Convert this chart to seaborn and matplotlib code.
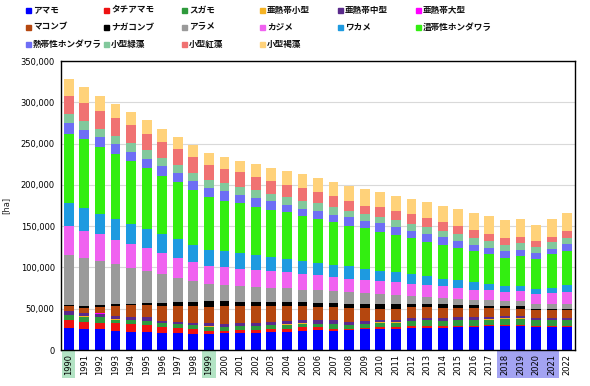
import matplotlib
matplotlib.use("Agg")
import matplotlib.pyplot as plt
import matplotlib.transforms as mtransforms
from matplotlib.lines import Line2D
from matplotlib.patches import Rectangle
from matplotlib.ticker import FuncFormatter
import numpy as np
import pandas as pd
import seaborn as sns

# ---- data (ha) ----
years = list(range(1990, 2023))

amamo = [26100, 24900, 24900, 23300, 22100, 22100, 20900, 20000, 19300, 18900,
         20000, 20000, 20900, 21300, 22000, 23300, 24000, 23300, 24000, 24900,
         24900, 26000, 26100, 26900, 26500, 27300, 27300, 28900, 28900, 28900,
         28100, 28100, 28100]
tachiamamo = [10000, 9200, 8400, 8800, 9200, 8000, 6400, 6100, 5600, 4400,
              2900, 4000, 3100, 3600, 4000, 4000, 3300, 2700, 2000, 2100,
              2400, 1300, 2800, 2000, 2000, 1600, 1600, 800, 800, 800,
              800, 800, 800]
sugamo = [6100, 6100, 6100, 4800, 4800, 5200, 4800, 4800, 4800, 4800,
          4400, 4900, 5000, 4800, 4500, 4700, 4000, 5300, 4100, 4300,
          5700, 5700, 6400, 7100, 6800, 7200, 7200, 7200, 8100, 8100,
          7200, 7200, 7200]
anettai_small = [400, 400, 400, 400, 400, 400, 400, 400, 400, 400,
                 400, 400, 400, 400, 400, 400, 400, 400, 400, 400,
                 400, 400, 400, 400, 400, 400, 400, 400, 400, 400,
                 400, 400, 400]
anettai_mid = [4400, 4400, 4400, 3700, 3700, 3700, 2800, 2800, 2800, 3800,
               3700, 3600, 3600, 3900, 4400, 3600, 4300, 4300, 3500, 3600,
               2700, 2700, 2500, 2100, 2500, 2900, 2900, 2900, 2400, 2400,
               1700, 1700, 1700]
anettai_large = [300, 300, 300, 300, 300, 300, 300, 300, 300, 300,
                 300, 300, 300, 300, 300, 300, 300, 300, 300, 300,
                 300, 300, 300, 300, 300, 300, 300, 300, 300, 300,
                 300, 300, 300]
makonbu = [6100, 6100, 7700, 11700, 13700, 14500, 17400, 18600, 19800, 19600,
           21300, 19800, 19700, 18700, 17400, 16700, 15900, 15900, 17100, 15800,
           13800, 13800, 13700, 13400, 12900, 11700, 11300, 10500, 10100, 9300,
           9700, 9700, 9700]
nagakonbu = [1200, 1600, 2400, 2400, 2000, 2800, 4000, 4800, 5200, 6800,
             6000, 5200, 5200, 5200, 5200, 5200, 5200, 4800, 4800, 4800,
             5200, 5200, 3200, 3200, 4000, 3600, 3200, 2400, 2000, 2800,
             2000, 2000, 2000]
arame = [59900, 58000, 53400, 48200, 42800, 38600, 34600, 29800, 25300, 20500,
         20000, 19300, 18100, 17300, 16800, 14800, 14900, 14500, 14100, 12800,
         12900, 10900, 10100, 8900, 8100, 7200, 6800, 6800, 6000, 6000,
         5200, 5200, 6000]
kajime = [35300, 33600, 32000, 30100, 29500, 27400, 26100, 24400, 22500, 22100,
          21400, 20900, 20900, 19700, 19400, 18600, 18100, 16900, 16000, 16100,
          15200, 16000, 14800, 14000, 13600, 13300, 12100, 12100, 11300, 12100,
          12100, 13700, 14100]
wakame = [27700, 27400, 25000, 25300, 24100, 23600, 22300, 22500, 21700, 20100,
          19300, 18900, 17300, 17200, 16000, 16000, 15200, 14800, 14900, 13300,
          12100, 12100, 11300, 10900, 9200, 8800, 9200, 7200, 6800, 6000,
          6800, 6400, 8000]
ontai_hondawara = [84500, 83000, 81000, 78000, 76400, 74400, 71000, 68500, 65900, 63800,
                   61000, 60200, 59000, 57600, 56300, 55100, 53000, 51400, 49400, 49000,
                   47800, 45000, 43700, 42100, 41400, 39400, 37400, 36200, 34500, 36200,
                   36100, 40200, 41400]
nettai_hondawara = [13000, 11000, 12000, 12000, 11000, 10700, 12000, 11000, 11400, 10500,
                    11300, 10500, 10500, 10000, 9300, 8000, 10100, 9300, 10000, 9200,
                    10000, 9200, 9300, 9300, 8800, 8000, 8000, 8000, 8100, 8000,
                    6900, 6800, 8800]
kogata_ryokuso = [11400, 11000, 10000, 10000, 11000, 10300, 10000, 10000, 9800, 10000,
                  10000, 10000, 9600, 9000, 9000, 10300, 8800, 9600, 8100, 8100,
                  8000, 8800, 8000, 8800, 8100, 8900, 8000, 8800, 8000, 8000,
                  7200, 8000, 7200]
kogata_koso = [21600, 22000, 22000, 22000, 21000, 20000, 19000, 19000, 18900, 18000,
               17000, 17000, 16000, 16000, 15000, 15000, 13500, 13500, 11300, 10000,
               11300, 11300, 12100, 10400, 10000, 9200, 9700, 8100, 8000, 8000,
               7200, 6800, 8100]
kogata_kasso = [20500, 19000, 18000, 17000, 16000, 16000, 16000, 15000, 14300, 14000,
                14700, 14000, 15400, 15000, 17000, 17000, 17000, 17000, 19000, 20300,
                18300, 18300, 18300, 18900, 20100, 20500, 20500, 21200, 21700, 21300,
                20100, 21300, 22100]

species = ["アマモ", "タチアマモ", "スガモ", "亜熱帯小型", "亜熱帯中型", "亜熱帯大型",
           "マコンブ", "ナガコンブ", "アラメ", "カジメ", "ワカメ", "温帯性ホンダワラ",
           "熱帯性ホンダワラ", "小型緑藻", "小型紅藻", "小型褐藻"]
series = [amamo, tachiamamo, sugamo, anettai_small, anettai_mid, anettai_large,
          makonbu, nagakonbu, arame, kajime, wakame, ontai_hondawara,
          nettai_hondawara, kogata_ryokuso, kogata_koso, kogata_kasso]
colors = ["#0000ff", "#ee1111", "#2e9a3c", "#f5b324", "#5a2a8c", "#ff00ff",
          "#b5470f", "#000000", "#9a9a9a", "#f062f0", "#1e9ae0", "#33ee11",
          "#6e6ef5", "#82c89c", "#f07272", "#ffd27a"]

highlight_green = [1990, 1999]
highlight_blue = [2018, 2019, 2020, 2021]

df = pd.DataFrame(
    [(y, sp, v) for sp, vals in zip(species, series) for y, v in zip(years, vals)],
    columns=["year", "species", "area"],
)
palette = dict(zip(species, colors))

sns.set_theme(style="white")
plt.rcParams["font.family"] = ["Noto Sans CJK JP", "DejaVu Sans"]

fig = plt.figure(figsize=(5.9, 3.86), dpi=100)
ax = fig.add_axes([61 / 590, 1 - 350 / 386, (575 - 61) / 590, (350 - 61) / 386])

# seaborn stacks the last hue level at the bottom, so pass the order reversed
sns.histplot(
    data=df, x="year", weights="area", hue="species",
    hue_order=species[::-1], palette=palette,
    multiple="stack", discrete=True, shrink=0.63,
    alpha=1, linewidth=0, legend=False, ax=ax,
)

ax.set_xlim(1989.5, 2022.5)
ax.set_ylim(0, 350000)
ax.set_yticks(np.arange(0, 350001, 50000))
ax.yaxis.set_major_formatter(FuncFormatter(lambda v, p: f"{int(v):,}"))
ax.set_xticks(years)
ax.set_xticklabels([str(y) for y in years], rotation=90, family="DejaVu Sans")
for lab in ax.get_yticklabels():
    lab.set_family("DejaVu Sans")
ax.tick_params(axis="both", labelsize=6, length=0, colors="#000000")
ax.tick_params(axis="y", pad=4.5)
ax.tick_params(axis="x", pad=3)
ax.set_xlabel("")
ax.set_ylabel("[ha]", fontsize=6, labelpad=7, family="DejaVu Sans")
ax.yaxis.grid(True, color="#d9d9d9", linewidth=0.8)
ax.set_axisbelow(True)
for s in ax.spines.values():
    s.set_visible(True)
    s.set_color("#000000")
    s.set_linewidth(1.0)

# highlighted year labels
trans = mtransforms.blended_transform_factory(ax.transData, ax.transAxes)
for y in highlight_green:
    ax.add_patch(Rectangle((y - 0.42, -0.098), 0.84, 0.093, transform=trans,
                           facecolor="#b3e3c4", edgecolor="none", clip_on=False, zorder=0))
ax.add_patch(Rectangle((highlight_blue[0] - 0.5, -0.098), len(highlight_blue), 0.093,
                       transform=trans, facecolor="#a3a3f2", edgecolor="none",
                       clip_on=False, zorder=0))

# legend (6 columns x 3 rows)
for i, (sp, c) in enumerate(zip(species, colors)):
    col, row = i % 6, i // 6
    x = (28 + col * 78) / 590
    yy = 1 - (10 + row * 17) / 386
    fig.add_artist(Line2D([x], [yy], marker="s", markersize=3.6, color=c,
                          linestyle="none", transform=fig.transFigure))
    fig.text(x + 5 / 590, yy, sp, fontsize=6.2, fontweight="semibold",
             va="center", ha="left", color="#111111")

fig.savefig("out.png", dpi=100)
